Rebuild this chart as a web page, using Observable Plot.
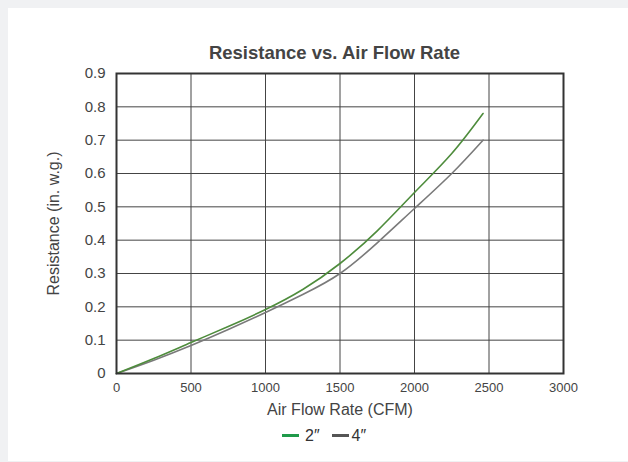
<!DOCTYPE html>
<html>
<head>
<meta charset="utf-8">
<script src="https://cdn.jsdelivr.net/npm/d3@7"></script>
<script src="https://cdn.jsdelivr.net/npm/@observablehq/plot@0.6"></script>
<style>
  html, body { margin: 0; padding: 0; background: #f0f1f3; width: 628px; height: 462px; overflow: hidden; }
  #card { position: absolute; left: 8px; top: 8px; width: 620px; height: 453px; background: #fff; font-family: "Liberation Sans", Arial, sans-serif; }
  #title { position: absolute; left: 0; width: 653px; top: 34px; text-align: center; font-weight: bold; font-size: 18.5px; color: #444; }
  #legend { position: absolute; left: 274px; top: 419px; font-size: 16px; color: #333; white-space: nowrap; }
  .sw { display: inline-block; width: 17px; height: 3px; vertical-align: middle; position: relative; top: -1px; }
  #chart { position: absolute; left: 0; top: 0; }
</style>
</head>
<body>
<div id="card">
  <div id="chart"></div>
  <div id="title">Resistance vs. Air Flow Rate</div>
  <div id="legend"><span class="sw" style="background:#1f9a4a;margin-right:6px"></span>2″<span class="sw" style="background:#555;margin-left:12px;margin-right:3px"></span>4″</div>
</div>
<script>
const flow2 = [0, 250, 500, 750, 1000, 1250, 1500, 1750, 2000, 2250, 2460];
const res2  = [0, 0.045, 0.093, 0.141, 0.192, 0.252, 0.330, 0.428, 0.543, 0.660, 0.780];
const flow4 = [0, 250, 500, 750, 1000, 1250, 1500, 1750, 2000, 2250, 2460];
const res4  = [0, 0.040, 0.084, 0.132, 0.183, 0.237, 0.300, 0.392, 0.495, 0.600, 0.700];
const xTicks = [0, 500, 1000, 1500, 2000, 2500, 3000];
const yTicks = [0, 0.1, 0.2, 0.3, 0.4, 0.5, 0.6, 0.7, 0.8, 0.9];
const xLabel = "Air Flow Rate (CFM)";
const yLabel = "Resistance (in. w.g.)";

const d2 = flow2.map((x, i) => ({x, y: res2[i]}));
const d4 = flow4.map((x, i) => ({x, y: res4[i]}));

const chart = Plot.plot({
  width: 620,
  height: 453,
  marginTop: 65,
  marginLeft: 108,
  marginRight: 65,
  marginBottom: 88,
  style: {fontFamily: '"Liberation Sans", Arial, sans-serif', background: "transparent", color: "#444"},
  x: {domain: [0, 3000]},
  y: {domain: [0, 0.9]},
  marks: [
    Plot.ruleX(xTicks, {stroke: "#444", strokeWidth: 1}),
    Plot.ruleY(yTicks, {stroke: "#444", strokeWidth: 1}),
    Plot.line(d4, {x: "x", y: "y", stroke: "#7a7a7a", strokeWidth: 1.6, curve: "natural"}),
    Plot.line(d2, {x: "x", y: "y", stroke: "#4e8c3c", strokeWidth: 1.6, curve: "natural"}),
    Plot.frame({stroke: "#333", strokeWidth: 2}),
    Plot.axisX({ticks: xTicks, tickSize: 0, tickPadding: 9, fontSize: 13, tickFormat: d => String(d), label: null}),
    Plot.axisY({ticks: yTicks, tickSize: 0, tickPadding: 11, fontSize: 15, tickFormat: d => d === 0 ? "0" : d.toFixed(1), label: null}),
    Plot.text([xLabel], {frameAnchor: "bottom", textAnchor: "middle", dy: 41, text: d => d, fontSize: 16, fill: "#444"}),
    Plot.text([yLabel], {frameAnchor: "left", textAnchor: "middle", dx: -63, rotate: -90, text: d => d, fontSize: 16, fill: "#444"})
  ]
});
document.getElementById("chart").appendChild(chart);
</script>
</body>
</html>
